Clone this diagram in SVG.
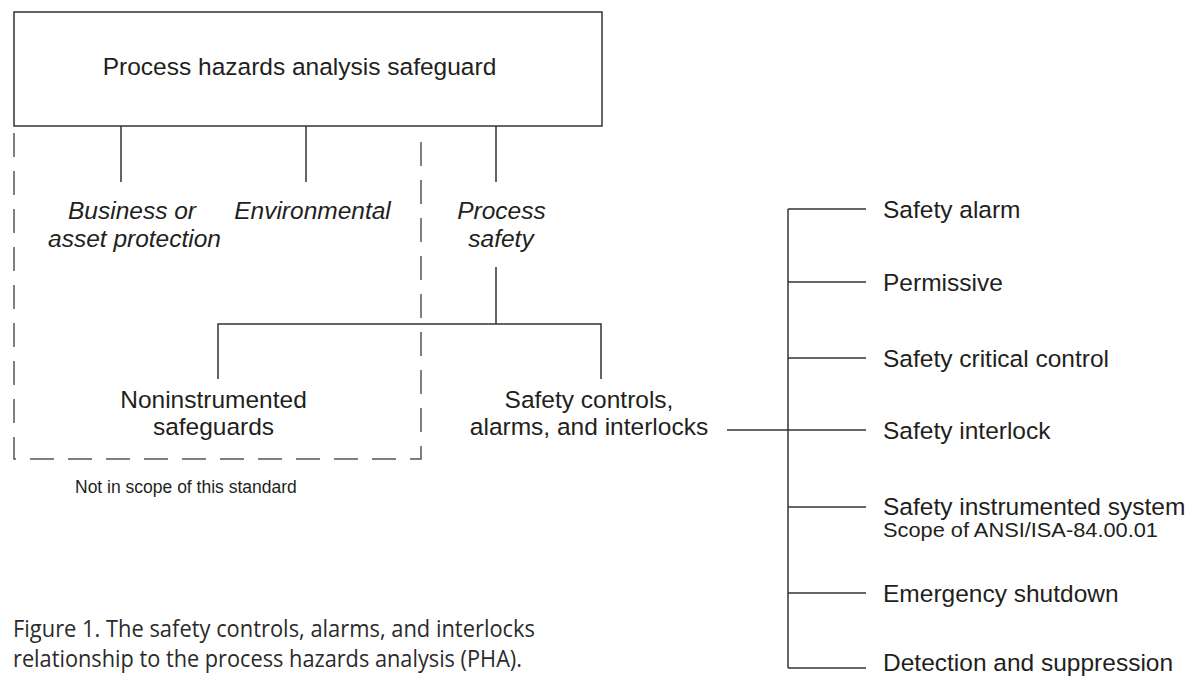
<svg xmlns="http://www.w3.org/2000/svg" width="1197" height="677" viewBox="0 0 1197 677">
  <style>
    .ln { stroke: #333333; stroke-width: 1.5; fill: none; }
    .dash { stroke: #555555; stroke-width: 1.5; fill: none; stroke-dasharray: 24 14; }
    .lbl { font-family: "Liberation Sans", Arial, sans-serif; font-size: 24.5px; fill: #231f20; }
    .it { font-style: italic; }
    .sm { font-family: "Liberation Sans", Arial, sans-serif; font-size: 17.5px; fill: #231f20; }
    .note { font-family: "Liberation Sans", Arial, sans-serif; font-size: 20px; fill: #231f20; }
    .cap { font-family: "Open Sans", "Noto Sans", sans-serif; font-size: 23px; fill: #2b2b2b; }
  </style>
  <rect width="1197" height="677" fill="#ffffff"/>

  <!-- scope boundary (not in scope) -->
  <path class="dash" d="M14,133 V459 H421 V132"/>

  <g id="connectors">
    <line class="ln" x1="121" y1="126" x2="121" y2="182"/>
    <line class="ln" x1="306" y1="126" x2="306" y2="182"/>
    <line class="ln" x1="496" y1="126" x2="496" y2="182"/>
    <line class="ln" x1="496" y1="267" x2="496" y2="324"/>
    <polyline class="ln" points="218,379 218,324 601,324 601,379"/>
    <line class="ln" x1="727" y1="430" x2="788" y2="430"/>
    <line class="ln" x1="788" y1="209" x2="788" y2="668"/>
    <line class="ln" x1="788" y1="209" x2="866" y2="209"/>
    <line class="ln" x1="788" y1="282" x2="866" y2="282"/>
    <line class="ln" x1="788" y1="358" x2="866" y2="358"/>
    <line class="ln" x1="788" y1="430" x2="866" y2="430"/>
    <line class="ln" x1="788" y1="507" x2="866" y2="507"/>
    <line class="ln" x1="788" y1="593" x2="866" y2="593"/>
    <line class="ln" x1="788" y1="668" x2="866" y2="668"/>
  </g>

  <g id="pha">
    <rect class="ln" x="14" y="12" width="588" height="114" fill="#ffffff"/>
    <text class="lbl" x="299.5" y="75" text-anchor="middle">Process hazards analysis safeguard</text>
  </g>

  <g id="business">
    <text class="lbl it" x="132" y="219" text-anchor="middle">Business or</text>
    <text class="lbl it" x="134.5" y="247" text-anchor="middle">asset protection</text>
  </g>

  <g id="environmental">
    <text class="lbl it" x="312.5" y="219" text-anchor="middle">Environmental</text>
  </g>

  <g id="process-safety">
    <text class="lbl it" x="501.5" y="219" text-anchor="middle">Process</text>
    <text class="lbl it" x="501" y="247" text-anchor="middle">safety</text>
  </g>

  <g id="noninstrumented">
    <text class="lbl" x="213.5" y="408" text-anchor="middle">Noninstrumented</text>
    <text class="lbl" x="213.5" y="435" text-anchor="middle">safeguards</text>
  </g>

  <g id="scai">
    <text class="lbl" x="589" y="408" text-anchor="middle">Safety controls,</text>
    <text class="lbl" x="589" y="435" text-anchor="middle">alarms, and interlocks</text>
  </g>

  <g id="out-of-scope">
    <text class="sm" x="75" y="493">Not in scope of this standard</text>
  </g>

  <g id="safety-alarm"><text class="lbl" x="883" y="218">Safety alarm</text></g>
  <g id="permissive"><text class="lbl" x="883" y="291">Permissive</text></g>
  <g id="safety-critical-control"><text class="lbl" x="883" y="367">Safety critical control</text></g>
  <g id="safety-interlock"><text class="lbl" x="883" y="439">Safety interlock</text></g>
  <g id="sis">
    <text class="lbl" x="883" y="515">Safety instrumented system</text>
    <text class="note" x="883" y="537" textLength="275" lengthAdjust="spacingAndGlyphs">Scope of ANSI/ISA-84.00.01</text>
  </g>
  <g id="emergency-shutdown"><text class="lbl" x="883" y="602">Emergency shutdown</text></g>
  <g id="detection-suppression"><text class="lbl" x="883" y="671">Detection and suppression</text></g>

  <g id="caption">
    <text class="cap" x="13" y="637" textLength="522" lengthAdjust="spacingAndGlyphs">Figure 1. The safety controls, alarms, and interlocks</text>
    <text class="cap" x="13" y="667" textLength="509" lengthAdjust="spacingAndGlyphs">relationship to the process hazards analysis (PHA).</text>
  </g>
</svg>
